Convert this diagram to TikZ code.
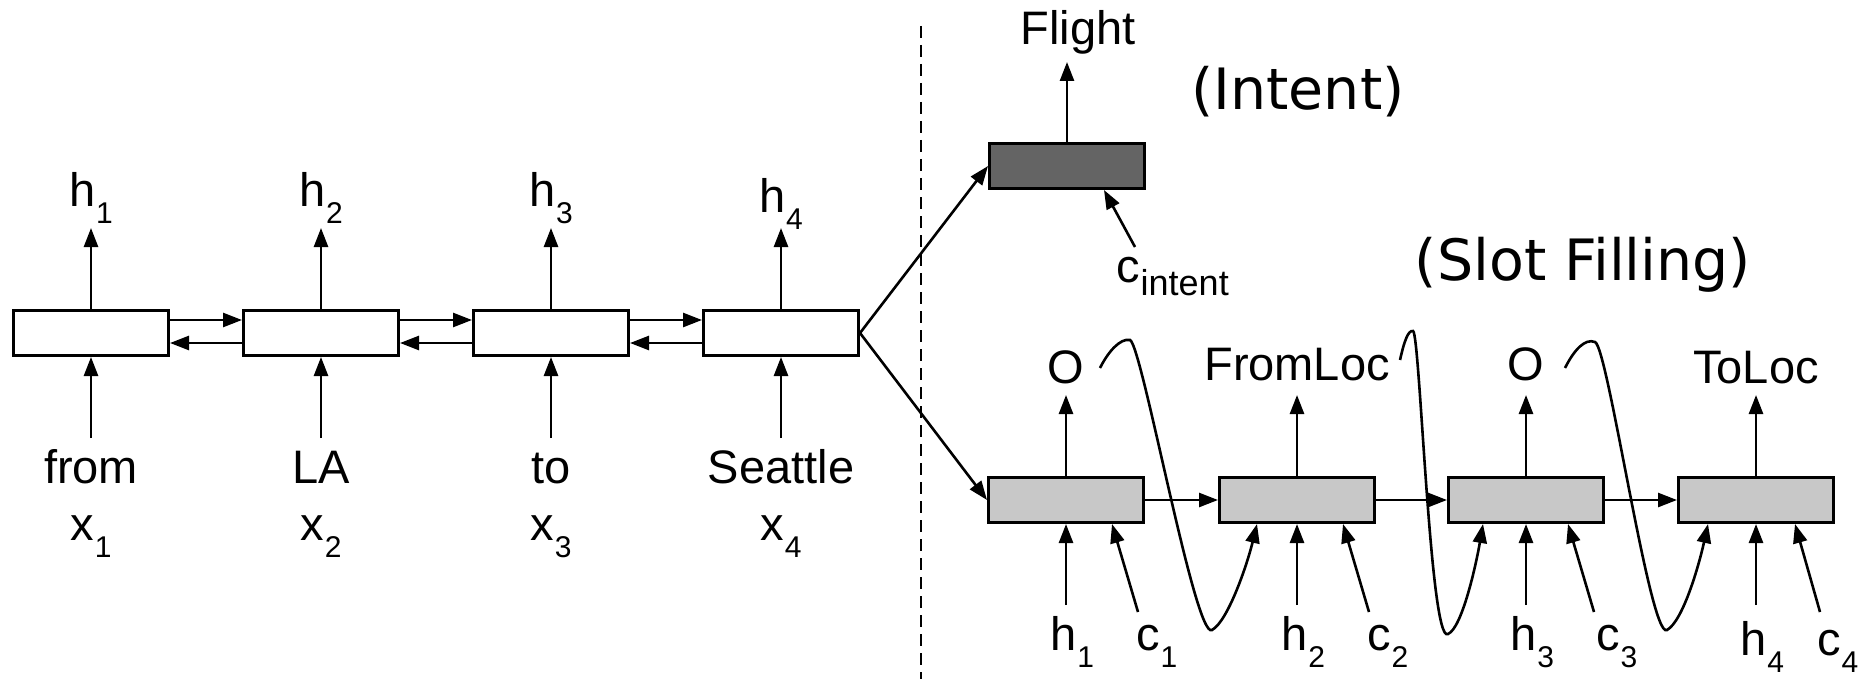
\documentclass[tikz,border=0pt]{standalone}
\usepackage{fontspec}
\usepackage{graphicx}
\setmainfont{Liberation Sans}
\newfontfamily\dvs{DejaVu Sans}
\usetikzlibrary{arrows.meta,calc}
\definecolor{intentgray}{RGB}{100,100,100}
\definecolor{slotgray}{RGB}{200,200,200}
\newcommand\sbs[1]{\kern1pt\raisebox{-17pt}{\fontsize{30}{30}\selectfont #1}}
\begin{document}
\begin{tikzpicture}[x=1pt,y=-1pt,
  lbox/.style={draw, line width=3pt, fill=white, minimum width=155pt, minimum height=45pt, inner sep=0pt},
  ibox/.style={lbox, fill=intentgray},
  sbox/.style={lbox, fill=slotgray},
  arr/.style={line width=2.6pt, -{Triangle[length=19pt,width=14pt]}},
  curvearr/.style={line width=2.6pt, -{Triangle[length=19pt,width=14pt]}},
  lbl/.style={font=\fontsize{47}{52}\selectfont, inner sep=0pt, anchor=base},
  big/.style={font=\dvs\fontsize{57}{62}\selectfont, inner sep=0pt, anchor=base}]
\useasboundingbox (0,0) rectangle (1867,679);

% ---------- left: bidirectional encoder ----------
\foreach \i/\x/\w/\hy in {1/91/from/207,2/321/LA/207,3/551/to/207,4/781/Seattle/212} {
  \node[lbox] (b\i) at (\x,333) {};
  \node[lbl] (h\i) at (\x,\hy) {h\sbs{\i}};
  \node[lbl] (w\i) at (\x,483) {\w};
  \node[lbl] (x\i) at (\x,540) {x\sbs{\i}};
  \coordinate (bin\i) at (\x,438);
  \draw[arr] (b\i.north) -- ++(0,-81);
  \draw[arr] (bin\i) -- (b\i.south);
}
\foreach \i/\j in {1/2,2/3,3/4} {
  \draw[arr] ([yshift=13pt]b\i.east) -- ([yshift=13pt]b\j.west);
  \draw[arr] ([yshift=-10pt]b\j.west) -- ([yshift=-10pt]b\i.east);
}

% ---------- divider ----------
\coordinate (dtop) at (921,26);
\coordinate (dbot) at (921,679);
\draw[line width=2.6pt, dash pattern=on 12pt off 7pt] (dtop) -- (dbot);

% ---------- intent ----------
\node[ibox] (it) at (1067,166) {};
\draw[arr] (it.north) -- ++(0,-80);
\node[lbl] (flight) at (1078,45) {Flight};
\node[big] (intentlbl) at (1298,110) {(Intent)};
\node[big] (slotlbl) at (1583,280) {(Slot Filling)};
\node[lbl, anchor=base west] (ci) at (1116,282) {c\kern1pt\raisebox{-13pt}{\fontsize{36}{36}\selectfont intent}};
\coordinate (cifrom) at (1135,247);
\draw[arr] (cifrom) -- ($(it.south)+(37,0)$);

% ---------- slot filling decoder ----------
\foreach \i/\x/\lab/\ly/\by/\cl/\ca/\cb in {1/1066/O/383/650/70/72/46, 2/1297/FromLoc/380/650/70/72/46, 3/1526/O/380/650/70/68/42, 4/1756/ToLoc/383/655/61/64/39} {
  \node[sbox] (s\i) at (\x,500) {};
  \node[lbl] (o\i) at (\x,\ly) {\lab};
  \draw[arr] (s\i.north) -- ++(0,-81);
  \node[lbl, anchor=base west] (sh\i) at (\x-16,\by) {h\sbs{\i}};
  \node[lbl, anchor=base west] (sc\i) at (\x+\cl,\by) {c\sbs{\i}};
  \coordinate (shin\i) at (\x,605);
  \coordinate (scin\i) at (\x+\ca,612);
  \draw[arr] (shin\i) -- (s\i.south);
  \draw[arr] (scin\i) -- ($(s\i.south)+(\cb,0)$);
}
\foreach \i/\j in {1/2,2/3,3/4} {
  \draw[arr] (s\i.east) -- (s\j.west);
}

% ---------- feeding previous output back ----------
\coordinate (f1) at (1100,368);
\coordinate (f2) at (1400,360);
\coordinate (f3) at (1565,368);
\draw[curvearr] (f1) .. controls (1108,352) and (1120,338) .. (1130,340)
  .. controls (1142,345) and (1195,640) .. (1212,630)
  .. controls (1228,621) and (1247,565) .. ($(s2.south)+(-40,0)$);
\draw[curvearr] (f2) .. controls (1404,342) and (1408,330) .. (1413,331)
  .. controls (1420,333) and (1430,645) .. (1448,634)
  .. controls (1462,628) and (1476,565) .. ($(s3.south)+(-43,0)$);
\draw[curvearr] (f3) .. controls (1574,350) and (1585,338) .. (1595,342)
  .. controls (1608,347) and (1650,640) .. (1667,630)
  .. controls (1683,621) and (1699,565) .. ($(s4.south)+(-48,0)$);

% ---------- encoder to decoders ----------
\draw[arr] (b4.east) -- (it.west);
\draw[arr] (b4.east) -- (s1.west);
\end{tikzpicture}
\end{document}
